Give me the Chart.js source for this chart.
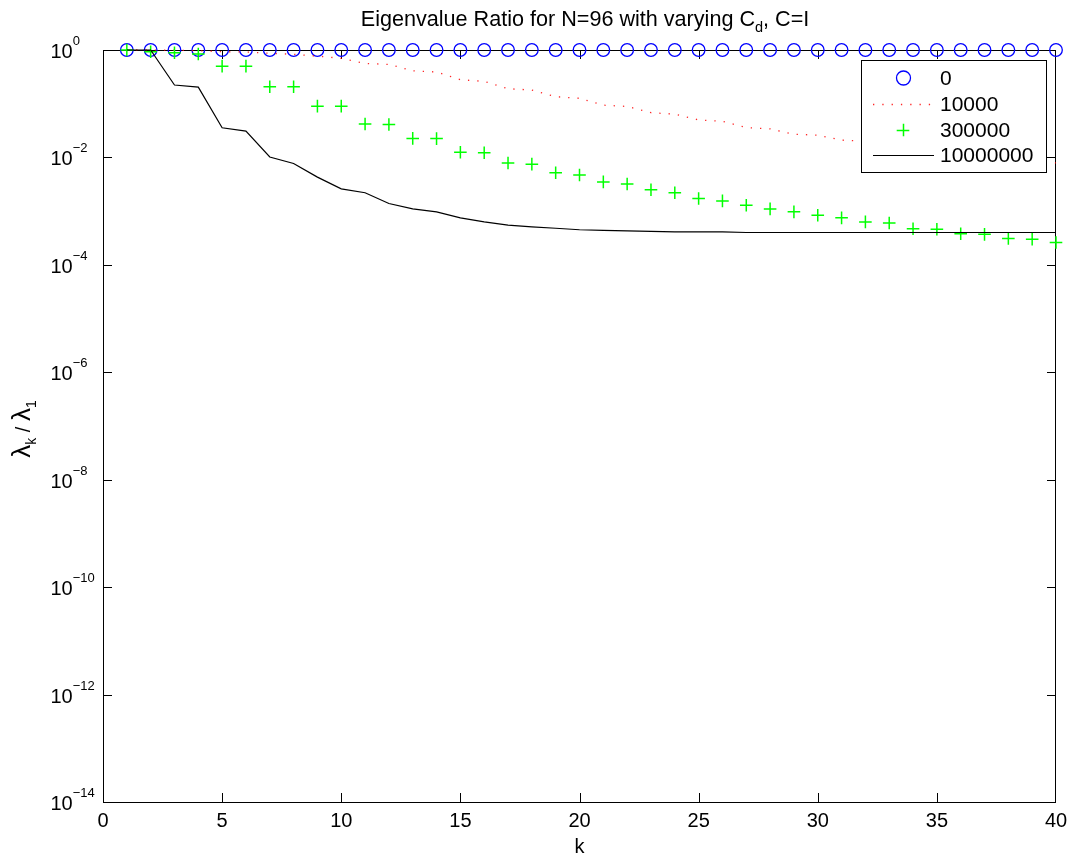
<!DOCTYPE html>
<html><head><meta charset="utf-8">
<script src="https://cdn.jsdelivr.net/npm/chart.js@4/dist/chart.umd.min.js"></script>
<style>html,body{margin:0;padding:0;background:#fff}canvas{display:block}</style>
</head><body>
<canvas id="c" width="1072" height="859"></canvas>
<script>
const kValues = [1,2,3,4,5,6,7,8,9,10,11,12,13,14,15,16,17,18,19,20,21,22,23,24,25,26,27,28,29,30,31,32,33,34,35,36,37,38,39,40];
const ratioCd0 = [1,1,1,1,1,1,1,1,1,1,1,1,1,1,1,1,1,1,1,1,1,1,1,1,1,1,1,1,1,1,1,1,1,1,1,1,1,1,1,1];
const ratioCd1e4 = [1,1,0.99,0.97,0.93,0.92,0.87,0.83,0.77,0.70,0.56,0.54,0.41,0.39,0.28,0.26,0.19,0.18,0.135,0.126,0.094,0.089,0.068,0.064,0.050,0.047,0.036,0.034,0.027,0.026,0.021,0.020,0.016,0.015,0.013,0.012,0.010,0.0095,0.0085,0.0079];
const ratioCd3e5 = [1,0.93,0.89,0.84,0.50,0.50,0.207,0.207,0.090,0.090,0.042,0.041,0.0226,0.0224,0.0125,0.0122,0.0079,0.0075,0.0052,0.0047,0.0035,0.0032,0.0025,0.0022,0.00172,0.00155,0.00129,0.0011,0.00097,0.00084,0.00075,0.00063,0.00060,0.00047,0.00046,0.00038,0.00037,0.00031,0.00030,0.00026];
const ratioCd1e7 = [1,1,0.223,0.204,0.0356,0.031,0.0102,0.0077,0.0043,0.0026,0.0022,0.00139,0.0011,0.00097,0.00075,0.00063,0.00055,0.00051,0.00048,0.00045,0.00044,0.00043,0.00042,0.00041,0.00041,0.00041,0.00040,0.00040,0.00040,0.00040,0.00040,0.00040,0.00040,0.00040,0.00040,0.00040,0.00040,0.00040,0.00040,0.00040];
const seriesLabels = ['0','10000','300000','10000000'];
const xTicks = [0,5,10,15,20,25,30,35,40];
const yTickExponents = [0,-2,-4,-6,-8,-10,-12,-14];

const FONT = '"Liberation Sans", Arial, sans-serif';
function pts(vals){ return kValues.map((k,i)=>({x:k,y:vals[i]})); }

function drawRich(ctx, parts, x, y, align){
  let w = 0;
  parts.forEach(p=>{ ctx.font = p.size+'px '+FONT; p.w = ctx.measureText(p.t).width; w += p.w; });
  let cx = align==='center' ? x - w/2 : (align==='right' ? x - w : x);
  ctx.textAlign = 'left'; ctx.textBaseline = 'alphabetic';
  parts.forEach(p=>{ ctx.font = p.size+'px '+FONT; ctx.fillText(p.t, cx, y + (p.dy||0)); cx += p.w; });
}

const decorPlugin = {
  id: 'decor',
  beforeDatasetsDraw(chart){
    const {ctx, chartArea:a, scales} = chart;
    const xs = scales.x, ys = scales.y;
    ctx.save();
    ctx.strokeStyle = '#000'; ctx.lineWidth = 1;
    ctx.strokeRect(a.left+0.5, a.top+0.5, a.right-a.left-1, a.bottom-a.top);
    ctx.beginPath();
    xTicks.forEach(v=>{
      const px = Math.round(xs.getPixelForValue(v))+0.5;
      if (v===xTicks[0] || v===xTicks[xTicks.length-1]) return;
      ctx.moveTo(px, a.bottom); ctx.lineTo(px, a.bottom-9);
      ctx.moveTo(px, a.top); ctx.lineTo(px, a.top+9);
    });
    yTickExponents.forEach(e=>{
      const py = Math.round(ys.getPixelForValue(Math.pow(10,e)))+0.5;
      if (e===0 || e===-14) return;
      ctx.moveTo(a.left, py); ctx.lineTo(a.left+9, py);
      ctx.moveTo(a.right, py); ctx.lineTo(a.right-9, py);
    });
    ctx.stroke();
    ctx.fillStyle = '#000';
    xTicks.forEach(v=>{
      const px = xs.getPixelForValue(v);
      drawRich(ctx, [{t:String(v), size:20}], px, 827, 'center');
    });
    yTickExponents.forEach(e=>{
      const py = ys.getPixelForValue(Math.pow(10,e));
      const ex = e===0 ? '0' : '\u2212'+String(-e);
      drawRich(ctx, [{t:'10', size:20, dy:8},{t:ex, size:13, dy:-5}], 50.5, py, 'left');
    });
    drawRich(ctx, [{t:'k', size:20}], (a.left+a.right)/2, 853, 'center');
    ctx.save();
    ctx.translate(30, 429);
    ctx.rotate(-Math.PI/2);
    drawRich(ctx, [{t:'\u03bb', size:26},{t:'k', size:14, dy:6},{t:' / ', size:20},{t:'\u03bb', size:26},{t:'1', size:14, dy:6}], 0, 0, 'center');
    ctx.restore();
    drawRich(ctx, [{t:'Eigenvalue Ratio for N=96 with varying C', size:21.6},{t:'d', size:14.5, dy:6},{t:', C=I', size:21.6}], 585, 26, 'center');
    ctx.restore();
  },
  afterDatasetsDraw(chart){
    const {ctx} = chart;
    ctx.save();
    const bx = 861, by = 60, bw = 185, bh = 112;
    ctx.fillStyle = '#fff';
    ctx.fillRect(bx, by, bw, bh);
    ctx.strokeStyle = '#000'; ctx.lineWidth = 1;
    ctx.strokeRect(bx+0.5, by+0.5, bw, bh);
    const rows = [78, 104, 130, 155];
    const ds = chart.data.datasets;
    rows.forEach((ry,i)=>{
      const d = ds[i];
      ctx.save();
      if (i===0){
        ctx.strokeStyle = d.pointBorderColor; ctx.lineWidth = d.pointBorderWidth;
        ctx.beginPath(); ctx.arc(903.5, ry, 7, 0, Math.PI*2); ctx.stroke();
      } else if (i===2){
        ctx.strokeStyle = d.pointBorderColor; ctx.lineWidth = d.pointBorderWidth;
        ctx.beginPath(); const r = d.pointRadius;
        ctx.moveTo(903-r, ry+0.5); ctx.lineTo(903+r, ry+0.5);
        ctx.moveTo(903.5, ry-r); ctx.lineTo(903.5, ry+r); ctx.stroke();
      } else {
        ctx.strokeStyle = d.borderColor; ctx.lineWidth = d.borderWidth;
        ctx.setLineDash(d.borderDash || []);
        ctx.beginPath(); ctx.moveTo(873, ry+0.5); ctx.lineTo(934, ry+0.5); ctx.stroke();
      }
      ctx.restore();
      ctx.fillStyle = '#000';
      ctx.font = '21px '+FONT; ctx.textAlign = 'left'; ctx.textBaseline = 'middle';
      ctx.fillText(seriesLabels[i], 940, ry+1);
    });
    ctx.restore();
  }
};

new Chart(document.getElementById('c'), {
  type: 'line',
  data: {
    datasets: [
      { label: seriesLabels[0], data: pts(ratioCd0), showLine: false, pointStyle: 'circle', pointRadius: 6.3,
        pointBorderColor: '#0000ff', pointBackgroundColor: 'rgba(0,0,0,0)', pointBorderWidth: 1.3, borderColor: '#0000ff', clip: false, order: 3 },
      { label: seriesLabels[1], data: pts(ratioCd1e4), borderColor: 'rgba(255,0,0,0.85)', borderWidth: 1.3, borderDash: [1.3, 8],
        pointRadius: 0, fill: false, tension: 0, clip: false, order: 2 },
      { label: seriesLabels[2], data: pts(ratioCd3e5), showLine: false, pointStyle: 'cross', pointRadius: 6.3,
        pointBorderColor: '#00ff00', pointBackgroundColor: '#00ff00', pointBorderWidth: 1.5, borderColor: '#00ff00', clip: false, order: 1 },
      { label: seriesLabels[3], data: pts(ratioCd1e7), borderColor: '#000', borderWidth: 1.2,
        pointRadius: 0, fill: false, tension: 0, clip: false, order: 0 }
    ]
  },
  options: {
    responsive: false,
    animation: false,
    events: [],
    layout: { padding: { left: 103, right: 16, top: 50, bottom: 57 } },
    plugins: { legend: { display: false }, title: { display: false }, tooltip: { enabled: false } },
    scales: {
      x: { type: 'linear', min: 0, max: 40, display: false },
      y: { type: 'logarithmic', min: 1e-14, max: 1, display: false,
           afterBuildTicks: s => { s.ticks = yTickExponents.map(e=>({value: Math.pow(10,e)})); } }
    }
  },
  plugins: [decorPlugin]
});
</script>
</body></html>
